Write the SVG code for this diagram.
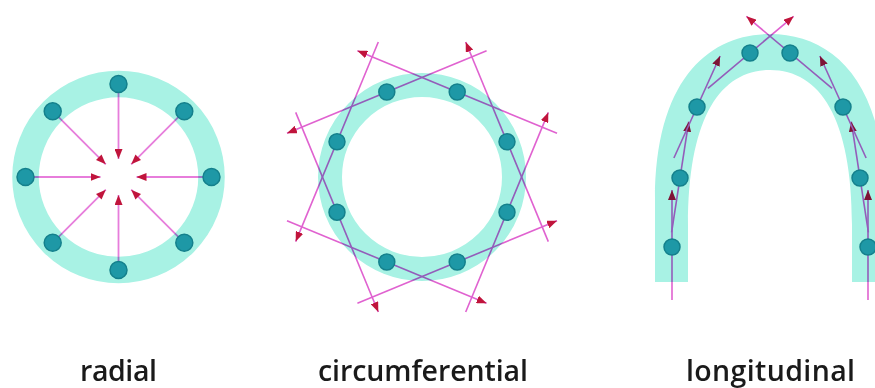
<svg xmlns="http://www.w3.org/2000/svg" width="875" height="388" viewBox="0 0 875 388">
<defs>
<style>
.band{fill:none;stroke:#a8f2e4}
.bandfill{fill:#a8f2e4}
.dot{fill:#1e98a6;stroke:#14808c;stroke-width:1.5}
.ln{fill:none;stroke:#e062d0;stroke-width:1.6;marker-end:url(#ah)}
.lnr{fill:none;stroke:#e77ddb;stroke-width:1.8;marker-end:url(#ah)}
.lbl{font-family:"Open Sans","Liberation Sans",sans-serif;font-size:28.5px;font-weight:600;fill:#1a1a1a;text-anchor:middle}
.blend{mix-blend-mode:multiply}
</style>
<marker id="ah" markerUnits="userSpaceOnUse" markerWidth="10" markerHeight="8" refX="10" refY="4" orient="auto" viewBox="0 0 10 8">
<path d="M0,0 L10,4 L0,8 Z" fill="#c0143c"/>
</marker>
</defs>
<rect width="875" height="388" fill="#ffffff"/>

<!-- rings -->
<g id="ring-radial"><circle class="band" cx="118.5" cy="177" r="93" stroke-width="26.5"/></g>
<g id="ring-circumferential"><circle class="band" cx="422" cy="177" r="92" stroke-width="24"/></g>
<g id="ring-longitudinal"><path class="bandfill" d="M655,282 L655,200 C655,78 710,34 770,34 C830,34 885,78 885,200 L885,282 L852,282 L852,225 C852,118 820,70 770,70 C720,70 688,118 688,225 L688,282 Z"/></g>

<g id="connectors" class="blend">
<g id="conn-radial">
<line class="lnr" x1="118.5" y1="92" x2="118.5" y2="159"/>
<line class="lnr" x1="178.6" y1="116.9" x2="131.2" y2="164.3"/>
<line class="lnr" x1="203.5" y1="177" x2="136.5" y2="177"/>
<line class="lnr" x1="178.6" y1="237.1" x2="131.2" y2="189.7"/>
<line class="lnr" x1="118.5" y1="262" x2="118.5" y2="195"/>
<line class="lnr" x1="58.4" y1="237.1" x2="105.8" y2="189.7"/>
<line class="lnr" x1="33.5" y1="177" x2="100.5" y2="177"/>
<line class="lnr" x1="58.4" y1="116.9" x2="105.8" y2="164.3"/>
</g>
<g id="conn-circumferential">
<line class="ln" x1="548.3" y1="241.6" x2="465.7" y2="42.0"/>
<line class="ln" x1="557.0" y1="133.3" x2="357.4" y2="50.7"/>
<line class="ln" x1="486.6" y1="50.7" x2="287.0" y2="133.3"/>
<line class="ln" x1="378.3" y1="42.0" x2="295.7" y2="241.6"/>
<line class="ln" x1="295.7" y1="112.4" x2="378.3" y2="312.0"/>
<line class="ln" x1="287.0" y1="220.7" x2="486.6" y2="303.3"/>
<line class="ln" x1="357.4" y1="303.3" x2="557.0" y2="220.7"/>
<line class="ln" x1="465.7" y1="312.0" x2="548.3" y2="112.4"/>
</g>
<g id="conn-longitudinal">
<line class="ln" x1="672" y1="300" x2="672" y2="190"/>
<line class="ln" x1="671.6" y1="232.3" x2="688.7" y2="121.7"/>
<line class="ln" x1="673.9" y1="158.0" x2="720.1" y2="56.0"/>
<line class="ln" x1="707.9" y1="88.4" x2="793.6" y2="16.3"/>
<line class="ln" x1="868" y1="300" x2="868" y2="190"/>
<line class="ln" x1="868.4" y1="232.3" x2="851.3" y2="121.7"/>
<line class="ln" x1="866.1" y1="158.0" x2="819.9" y2="56.0"/>
<line class="ln" x1="832.1" y1="88.4" x2="746.4" y2="16.3"/>
</g>
</g>

<g id="dots-radial">
<g id="r1"><circle class="dot" cx="118.5" cy="84" r="8.5"/></g>
<g id="r2"><circle class="dot" cx="184.3" cy="111.2" r="8.5"/></g>
<g id="r3"><circle class="dot" cx="211.5" cy="177" r="8.5"/></g>
<g id="r4"><circle class="dot" cx="184.3" cy="242.8" r="8.5"/></g>
<g id="r5"><circle class="dot" cx="118.5" cy="270" r="8.5"/></g>
<g id="r6"><circle class="dot" cx="52.7" cy="242.8" r="8.5"/></g>
<g id="r7"><circle class="dot" cx="25.5" cy="177" r="8.5"/></g>
<g id="r8"><circle class="dot" cx="52.7" cy="111.2" r="8.5"/></g>
</g>
<g id="dots-circumferential">
<g id="c1"><circle class="dot" cx="507.0" cy="141.8" r="8"/></g>
<g id="c2"><circle class="dot" cx="457.2" cy="92.0" r="8"/></g>
<g id="c3"><circle class="dot" cx="386.8" cy="92.0" r="8"/></g>
<g id="c4"><circle class="dot" cx="337.0" cy="141.8" r="8"/></g>
<g id="c5"><circle class="dot" cx="337.0" cy="212.2" r="8"/></g>
<g id="c6"><circle class="dot" cx="386.8" cy="262.0" r="8"/></g>
<g id="c7"><circle class="dot" cx="457.2" cy="262.0" r="8"/></g>
<g id="c8"><circle class="dot" cx="507.0" cy="212.2" r="8"/></g>
</g>
<g id="dots-longitudinal">
<g id="l1"><circle class="dot" cx="672" cy="247" r="8"/></g>
<g id="l2"><circle class="dot" cx="680" cy="178" r="8"/></g>
<g id="l3"><circle class="dot" cx="697" cy="107" r="8"/></g>
<g id="l4"><circle class="dot" cx="750" cy="53" r="8"/></g>
<g id="l5"><circle class="dot" cx="790" cy="53" r="8"/></g>
<g id="l6"><circle class="dot" cx="843" cy="107" r="8"/></g>
<g id="l7"><circle class="dot" cx="860" cy="178" r="8"/></g>
<g id="l8"><circle class="dot" cx="868" cy="247" r="8"/></g>
</g>

<g id="labels">
<text class="lbl" x="118.5" y="381" textLength="77" lengthAdjust="spacing">radial</text>
<text class="lbl" x="423" y="381" textLength="210" lengthAdjust="spacing">circumferential</text>
<text class="lbl" x="770.5" y="381" textLength="169" lengthAdjust="spacing">longitudinal</text>
</g>
</svg>
